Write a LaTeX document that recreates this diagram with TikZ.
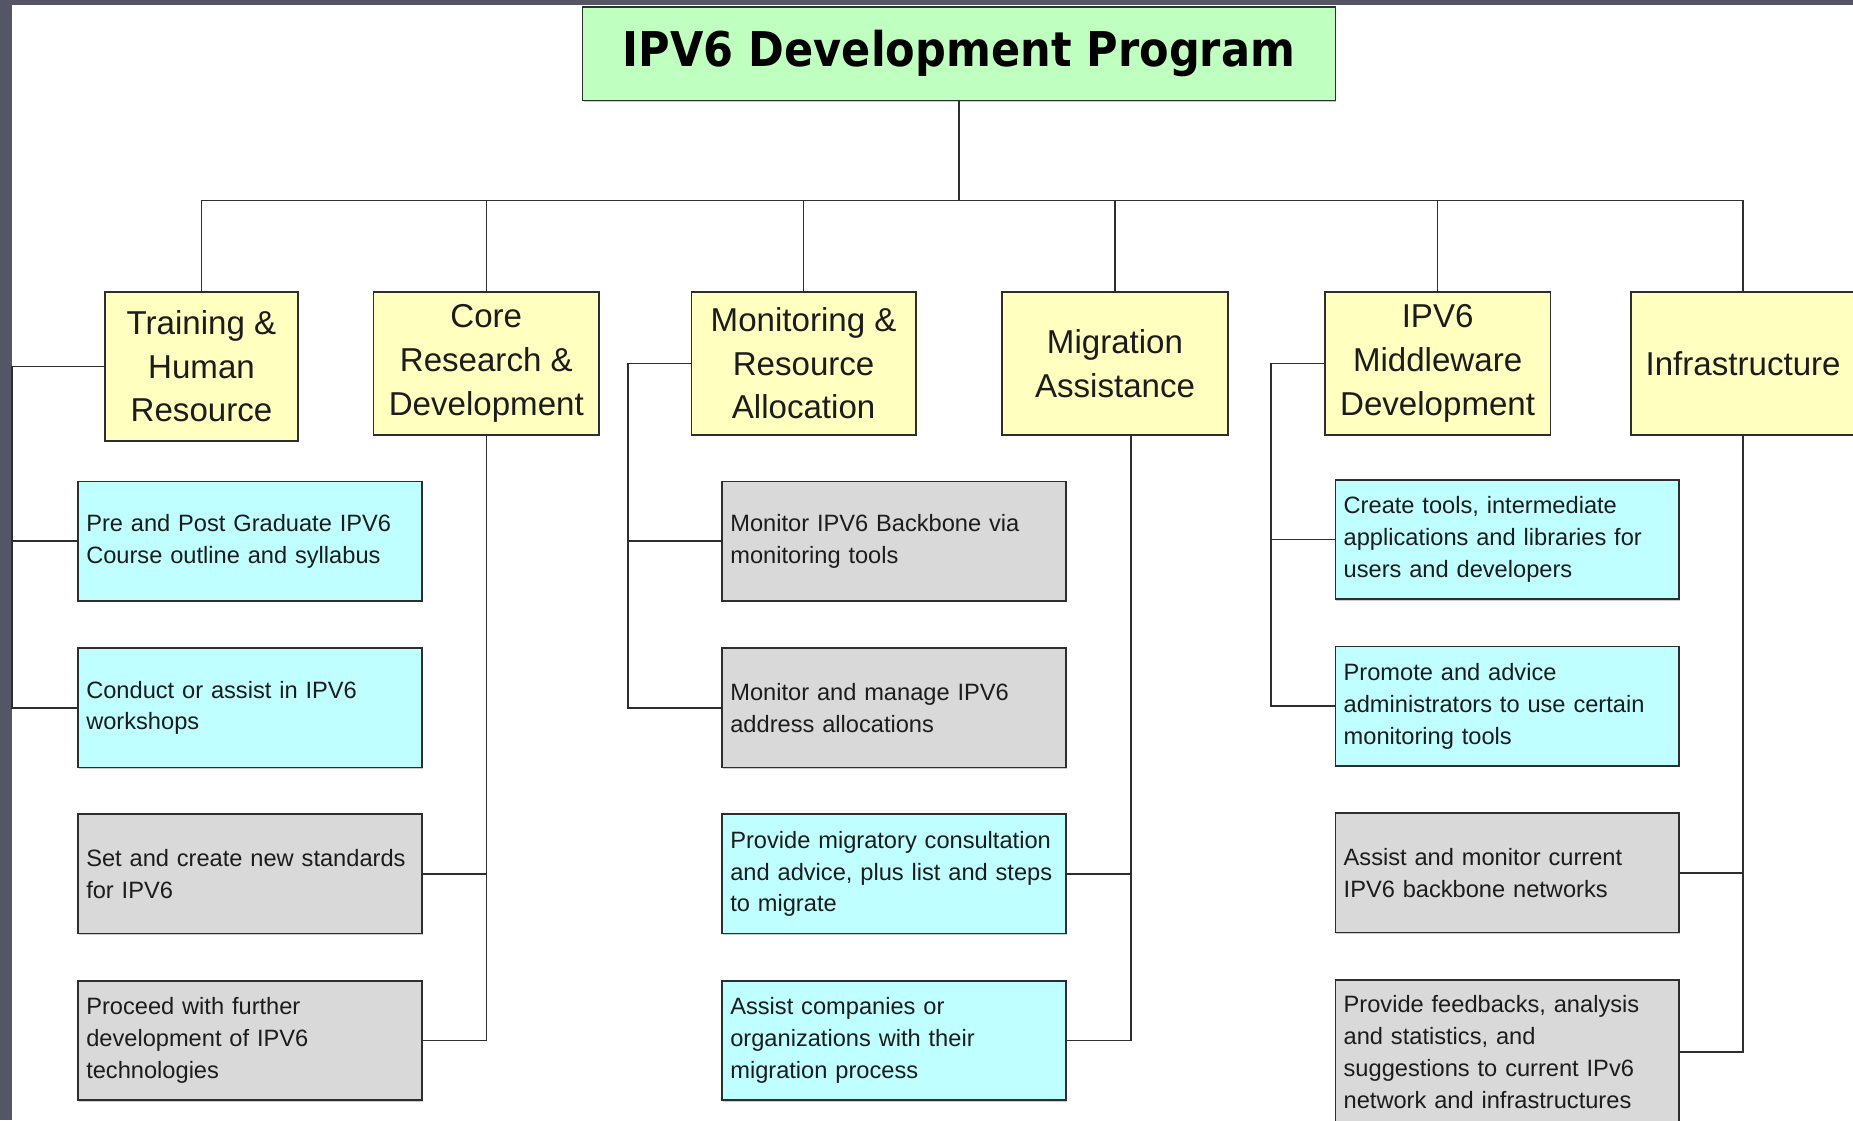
\documentclass[tikz,border=0pt]{standalone}
\usepackage{fontspec}
\setmainfont{Liberation Sans}
\newfontfamily\titlefont[FakeStretch=0.9]{DejaVu Sans}
\usetikzlibrary{shadows}
\definecolor{frame}{HTML}{545666}
\definecolor{titlegreen}{HTML}{BFFFBF}
\definecolor{catyellow}{HTML}{FFFFC0}
\definecolor{subcyan}{HTML}{BFFFFF}
\definecolor{subgray}{HTML}{D9D9D9}
\definecolor{edge}{HTML}{2E2E2E}
\definecolor{ink}{HTML}{1C1C1C}
\begin{document}
\begin{tikzpicture}[x=1pt,y=-1pt,
  box/.style={draw=edge, line width=1.4pt,
    drop shadow={shadow xshift=0.8pt, shadow yshift=-1.2pt, fill=black!40, opacity=0.5}},
  titlebox/.style={box, fill=titlegreen, minimum width=637pt, minimum height=79pt,
    inner sep=0pt, font=\titlefont\bfseries\fontsize{40.5}{48}\selectfont, text=black},
  catbox/.style={box, fill=catyellow, minimum height=121pt, inner sep=0pt,
    align=center, font=\fontsize{28}{37}\selectfont, text=ink},
  subbox/.style={box, minimum width=291pt, minimum height=101pt, inner xsep=7pt,
    inner ysep=0pt, text width=277pt, align=left, font=\fontsize{20}{27}\selectfont, text=ink},
  cyanbox/.style={subbox, fill=subcyan},
  graybox/.style={subbox, fill=subgray},
  link/.style={draw=edge, line width=1.3pt}
]
\useasboundingbox (0,0) rectangle (1568,948);
\clip (0,0) rectangle (1568,948);
\fill[white] (0,0) rectangle (1568,948);
\fill[frame] (0,0) rectangle (1568,4.3);
\fill[frame] (0,0) rectangle (10,948);

% title
\node[titlebox] (title) at (811.5,45.5) {IPV6 Development Program};

% categories
\node[catbox, minimum width=163pt, minimum height=126pt] (tr) at (170.5,310) {Training \&\\Human\\Resource};
\node[catbox, minimum width=191pt] (core) at (411.5,307.5) {Core\\Research \&\\Development};
\node[catbox, minimum width=190pt] (mon) at (680,307.5) {Monitoring \&\\Resource\\Allocation};
\node[catbox, minimum width=191pt] (mig) at (943.5,307.5) {Migration\\Assistance};
\node[catbox, minimum width=191pt] (mid) at (1216.5,307.5) {IPV6\\Middleware\\Development};
\node[catbox, minimum width=190pt] (inf) at (1475,307.5) {Infrastructure};

% sub boxes, column 1
\node[cyanbox] (pg) at (211.5,458) {Pre and Post Graduate IPV6\\Course outline and syllabus};
\node[cyanbox] (ws) at (211.5,599) {Conduct or assist in IPV6\\workshops};
\node[graybox] (std) at (211.5,739.5) {Set and create new standards\\for IPV6};
\node[graybox] (dev) at (211.5,880.5) {Proceed with further\\development of IPV6\\technologies};
% column 2
\node[graybox] (bb) at (756.5,458) {Monitor IPV6 Backbone via\\monitoring tools};
\node[graybox] (addr) at (756.5,599) {Monitor and manage IPV6\\address allocations};
\node[cyanbox] (cons) at (756.5,739.5) {Provide migratory consultation\\and advice, plus list and steps\\to migrate};
\node[cyanbox] (comp) at (756.5,880.5) {Assist companies or\\organizations with their\\migration process};
% column 3
\node[cyanbox] (tools) at (1275.5,456.5) {Create tools, intermediate\\applications and libraries for\\users and developers};
\node[cyanbox] (adm) at (1275.5,597.5) {Promote and advice\\administrators to use certain\\monitoring tools};
\node[graybox] (cur) at (1275.5,738.5) {Assist and monitor current\\IPV6 backbone networks};
\node[graybox, minimum height=122pt] (fb) at (1275.5,890) {Provide feedbacks, analysis\\and statistics, and\\suggestions to current IPv6\\network and infrastructures};

% connectors
\foreach \c in {tr,core,mon,mig,mid,inf}
  \draw[link] (title.south) -- ++(0,84) -| (\c.north);
\draw[link] (tr.west) -- ++(-78,0) |- (pg.west);
\draw[link] (tr.west) -- ++(-78,0) |- (ws.west);
\draw[link] (core.south) |- (std.east);
\draw[link] (core.south) |- (dev.east);
\draw[link] (mon.west) -- ++(-53,0) |- (bb.west);
\draw[link] (mon.west) -- ++(-53,0) |- (addr.west);
\draw[link] ([xshift=13.5pt]mig.south) |- (cons.east);
\draw[link] ([xshift=13.5pt]mig.south) |- (comp.east);
\draw[link] (mid.west) -- ++(-45,0) |- (tools.west);
\draw[link] (mid.west) -- ++(-45,0) |- (adm.west);
\draw[link] (inf.south) |- (cur.east);
\draw[link] (inf.south) |- (fb.east);
\end{tikzpicture}
\end{document}
